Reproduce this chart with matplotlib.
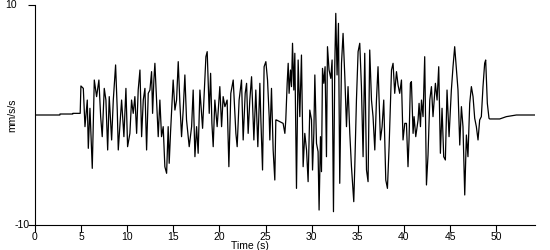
import matplotlib
matplotlib.use("Agg")
import matplotlib.pyplot as plt

# time (s) and ground acceleration (mm/s/s)
times = [
    0.0, 2.7, 2.71, 4.1, 4.11, 4.9,
    4.98, 5.24, 5.42, 5.67, 5.78, 5.96, 6.21, 6.43, 6.68, 6.93,
    7.12, 7.29, 7.51, 7.69, 7.88, 8.05, 8.31, 8.49, 8.74, 8.92,
    9.03, 9.39, 9.64, 9.86, 10.04, 10.29, 10.47, 10.65, 10.83, 11.02,
    11.19, 11.38, 11.56, 11.74, 11.92, 12.10, 12.28, 12.46, 12.64, 12.75,
    12.89, 13.00, 13.18, 13.36, 13.54, 13.72, 13.90, 14.08, 14.27, 14.44,
    14.55, 14.70, 14.98, 15.17, 15.35, 15.53, 15.71, 15.89, 16.07, 16.25,
    16.43, 16.72, 16.98, 17.15, 17.34, 17.52, 17.69, 17.88, 18.17, 18.34,
    18.53, 18.67, 18.89, 19.04, 19.18, 19.32, 19.50, 19.75, 20.04, 20.23,
    20.40, 20.59, 20.83, 21.02, 21.23, 21.49, 21.78, 21.92, 22.13, 22.39,
    22.57, 22.79, 22.94, 23.11, 23.29, 23.48, 23.73, 23.94, 24.16, 24.38,
    24.49, 24.67, 24.84, 25.03, 25.21, 25.39, 25.46, 25.64, 25.82, 26.00,
    26.11, 26.18, 26.54, 26.90, 27.09, 27.19, 27.34, 27.45, 27.55, 27.70,
    27.81, 27.92, 28.06, 28.17, 28.35, 28.53, 28.71, 28.89, 29.07, 29.25,
    29.44, 29.61, 29.79, 29.98, 30.09, 30.23, 30.34, 30.52, 30.69, 30.80,
    30.95, 31.06, 31.17, 31.31, 31.45, 31.60, 31.71, 31.88, 32.07, 32.21,
    32.36, 32.50, 32.61, 32.75, 32.90, 33.04, 33.23, 33.40, 33.59, 33.77,
    33.94, 34.13, 34.31, 34.56, 34.67, 34.85, 35.03, 35.21, 35.39, 35.57,
    35.75, 35.94, 36.11, 36.29, 36.48, 36.65, 36.84, 37.02, 37.19, 37.45,
    37.63, 37.81, 38.03, 38.21, 38.39, 38.65, 38.82, 39.00, 39.19, 39.36,
    39.54, 39.73, 39.90, 40.09, 40.27, 40.44, 40.55, 40.70, 40.81, 40.99,
    41.10, 41.28, 41.53, 41.64, 41.79, 41.90, 42.07, 42.25, 42.44, 42.61,
    42.80, 42.98, 43.15, 43.41, 43.59, 43.77, 43.95, 44.13, 44.31, 44.49,
    44.67, 44.89, 45.14, 45.32, 45.50, 45.69, 45.86, 46.05, 46.23, 46.40,
    46.59, 46.77, 46.94, 47.13, 47.31, 47.49, 47.67, 47.85, 48.03, 48.21,
    48.39, 48.57, 48.75, 48.86, 49.04, 49.22, 49.30, 50.38, 51.10, 52.19,
    54.20,
]
accel = [
    0.0, 0.0, 0.09, 0.09, 0.15, 0.15,
    2.64, 2.42, -1.06, 1.36, -3.03, 0.61, -4.85, 3.18, 1.67, 3.18,
    -0.15, -1.97, 2.42, 1.36, -3.18, 1.67, -2.27, 1.36, 4.55, 0.45,
    -3.18, 1.36, -1.97, 2.42, -2.88, -1.67, 1.36, 0.15, 1.67, -1.67,
    2.27, 4.09, -1.97, 1.36, 2.42, -3.18, 1.97, 2.27, 3.94, 0.15,
    3.18, 4.70, 1.36, -1.97, 1.36, -1.97, -1.06, -4.70, -5.30, -1.06,
    -4.39, -1.52, 3.18, 0.45, 1.36, 4.85, 1.06, -1.97, 0.45, 3.64,
    -0.45, -2.88, -1.06, 2.27, -3.79, -1.06, -3.48, 2.27, -1.21, 1.97,
    5.30, 5.76, 0.15, 3.79, -0.76, -2.88, 1.36, -1.06, 2.58, -1.06,
    1.67, 0.76, 1.36, -4.70, 1.97, 3.18, -1.67, -2.88, 1.36, 3.18,
    -2.27, 1.97, 2.88, -1.67, 1.36, 3.48, -2.27, 2.27, -2.88, 2.88,
    -0.45, -5.00, 4.39, 4.85, 3.18, -0.15, -2.27, 2.42, -3.18, -5.91,
    -0.45, -0.45, -0.61, -0.76, -1.67, -0.45, 2.88, 4.70, 1.97, 4.09,
    2.58, 6.52, 2.27, 5.61, -6.67, 5.00, -0.15, 5.45, -4.70, -1.67,
    -3.18, -6.06, 0.45, -0.45, -5.00, -1.67, 3.64, -2.58, -3.33, -8.64,
    -1.97, -5.15, 4.24, 2.88, 4.39, -3.79, 6.21, 4.09, 3.33, 5.00,
    -8.79, 4.39, 9.24, 3.64, 8.33, -6.21, 4.70, 7.42, 3.48, -1.06,
    2.58, -1.67, -4.70, -7.88, -4.70, 1.36, 5.76, 6.52, 2.58, -3.79,
    5.61, -5.00, -6.06, 5.91, 1.36, -0.15, -3.18, 1.36, 4.39, -2.27,
    -1.06, 1.36, -5.91, -6.67, -2.88, 4.09, 4.70, 1.97, 3.94, 2.73,
    1.97, 3.18, -2.27, -0.76, -0.76, -4.70, -2.27, 2.88, 3.03, -1.67,
    -0.15, -1.97, -0.45, 1.06, -1.06, 1.36, -0.15, 5.30, -6.36, -3.64,
    1.36, 2.58, -0.15, 2.88, 1.36, 4.39, -3.48, 0.61, -3.79, -4.09,
    2.27, -1.97, 2.27, 4.39, 6.21, 4.09, 2.27, -2.73, 0.76, -1.06,
    -7.27, -1.82, -3.79, 1.06, 2.58, 1.67, -0.30, -1.06, -2.27, -0.45,
    -0.15, 2.58, 4.70, 5.00, 1.06, -0.30, -0.36, -0.36, -0.15, 0.0,
    0.0,
]

x_ticks = [0, 5, 10, 15, 20, 25, 30, 35, 40, 45, 50]
y_ticks = [-10, 10]
y_tick_labels = ["-10", "10"]

plt.rcParams["font.family"] = ["Liberation Sans", "DejaVu Sans"]
FS = 7.5

fig = plt.figure(figsize=(5.5, 2.5), dpi=100)
ax = fig.add_axes([0.0636, 0.10, 0.909, 0.88])
ax.plot(times, accel, color="black", linewidth=0.9)

ax.set_xlim(0, 54.2)
ax.set_ylim(-10, 10)
ax.set_xticks(x_ticks)
ax.set_yticks(y_ticks)
ax.set_yticklabels([])
ax.tick_params(direction="out", length=5, width=0.8, labelsize=FS,
               colors="black", pad=0)
for side in ("top", "right"):
    ax.spines[side].set_visible(False)
for side in ("left", "bottom"):
    ax.spines[side].set_linewidth(0.8)

# the reference puts the two y labels at different offsets from the axis
ytrans = ax.get_yaxis_transform()
ax.text(-0.01, y_ticks[0], y_tick_labels[0], transform=ytrans,
        ha="right", va="center", fontsize=FS)
ax.text(-0.036, y_ticks[1], y_tick_labels[1], transform=ytrans,
        ha="right", va="center", fontsize=FS)

ax.set_xlabel("Time (s)", fontsize=FS)
ax.xaxis.set_label_coords(0.43, -0.074)
ax.set_ylabel("mm/s/s", fontsize=FS)
ax.yaxis.set_label_coords(-0.036, 0.5)

fig.savefig("out.png", dpi=100)
